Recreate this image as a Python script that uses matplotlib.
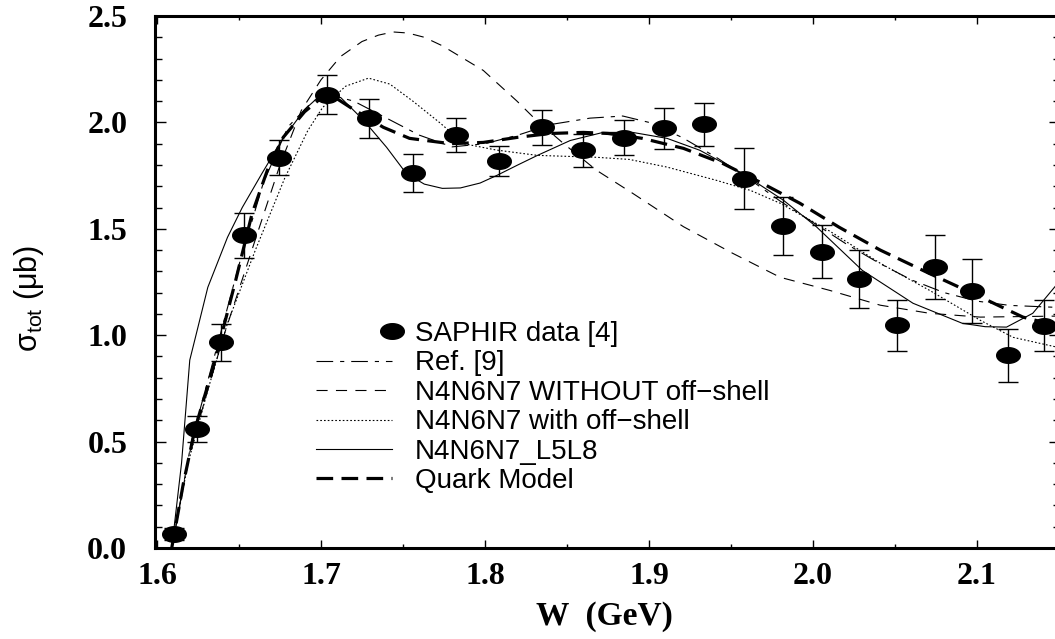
import numpy as np
import matplotlib
matplotlib.use('Agg')
import matplotlib.pyplot as plt
from matplotlib.path import Path
from matplotlib.legend_handler import HandlerLine2D

plt.rcParams['lines.scale_dashes'] = False
plt.rcParams['mathtext.default'] = 'regular'

# SAPHIR data points
w_data = [1.6104, 1.6242, 1.6388, 1.6532, 1.6744, 1.7038, 1.7293, 1.7563,
          1.7825, 1.8087, 1.8346, 1.8600, 1.8848, 1.9093, 1.9337, 1.9579,
          1.9819, 2.0053, 2.0282, 2.0510, 2.0742, 2.0967, 2.1191, 2.1409]
sig_data = [0.066, 0.559, 0.966, 1.470, 1.834, 2.131, 2.019, 1.762,
            1.940, 1.818, 1.978, 1.869, 1.928, 1.973, 1.991, 1.736,
            1.513, 1.393, 1.264, 1.047, 1.321, 1.207, 0.906, 1.044]
err_data = [0.030, 0.063, 0.085, 0.105, 0.082, 0.090, 0.092, 0.088,
            0.080, 0.072, 0.082, 0.078, 0.083, 0.096, 0.100, 0.145,
            0.135, 0.124, 0.136, 0.120, 0.150, 0.150, 0.125, 0.120]

# Ref. [9]
w_ref9 = [1.609, 1.621, 1.635, 1.650, 1.665, 1.680, 1.695, 1.705, 1.720, 1.740,
          1.760, 1.780, 1.800, 1.820, 1.840, 1.864, 1.884, 1.900, 1.920, 1.941,
          1.960, 1.980, 2.000, 2.020, 2.040, 2.060, 2.080, 2.100, 2.120, 2.151]
s_ref9 = [0.0, 0.50, 0.90, 1.33, 1.72, 1.98, 2.10, 2.13, 2.10, 2.02,
          1.94, 1.885, 1.90, 1.94, 1.99, 2.02, 2.03, 2.00, 1.93, 1.836,
          1.74, 1.63, 1.53, 1.43, 1.34, 1.26, 1.20, 1.16, 1.14, 1.13]

# N4N6N7 WITHOUT off-shell
w_noff = [1.609, 1.620, 1.640, 1.660, 1.675, 1.688, 1.700, 1.712, 1.725, 1.735,
          1.744, 1.753, 1.763, 1.774, 1.799, 1.8195, 1.830, 1.848, 1.868, 1.890,
          1.921, 1.951, 1.980, 2.010, 2.041, 2.071, 2.102, 2.151]
s_noff = [0.0, 0.45, 0.98, 1.45, 1.80, 2.056, 2.20, 2.31, 2.38, 2.41,
          2.425, 2.42, 2.40, 2.36, 2.244, 2.10, 2.02, 1.90, 1.775, 1.667,
          1.51, 1.385, 1.272, 1.211, 1.141, 1.103, 1.085, 1.09]

# N4N6N7 with off-shell
w_off = [1.609, 1.619, 1.631, 1.643, 1.660, 1.678, 1.692, 1.701, 1.715, 1.729,
         1.742, 1.756, 1.773, 1.787, 1.807, 1.832, 1.868, 1.888, 1.911, 1.941,
         1.962, 1.980, 2.010, 2.041, 2.071, 2.102, 2.122, 2.151]
s_off = [0.0, 0.40, 0.742, 1.056, 1.40, 1.74, 1.962, 2.07, 2.17, 2.208,
         2.18, 2.10, 1.995, 1.90, 1.87, 1.845, 1.836, 1.826, 1.79, 1.728,
         1.68, 1.62, 1.49, 1.338, 1.211, 1.07, 0.99, 0.94]

# N4N6N7_L5L8
w_l5l8 = [1.609, 1.612, 1.615, 1.620, 1.625, 1.631, 1.643, 1.652, 1.664, 1.676,
          1.690, 1.700, 1.712, 1.726, 1.740, 1.752, 1.763, 1.774, 1.785, 1.797,
          1.807, 1.820, 1.832, 1.852, 1.872, 1.890, 1.911, 1.931, 1.957, 1.982,
          2.002, 2.030, 2.061, 2.091, 2.105, 2.118, 2.134, 2.151]
s_l5l8 = [0.0, 0.20, 0.40, 0.883, 1.038, 1.225, 1.46, 1.60, 1.76, 1.915,
          2.06, 2.13, 2.117, 2.01, 1.883, 1.76, 1.71, 1.69, 1.692, 1.715,
          1.75, 1.80, 1.845, 1.915, 1.953, 1.953, 1.925, 1.869, 1.76, 1.634,
          1.51, 1.305, 1.15, 1.056, 1.04, 1.038, 1.103, 1.26]

# Quark Model
w_qm = [1.609, 1.616, 1.623, 1.635, 1.648, 1.658, 1.668, 1.677, 1.690, 1.701,
        1.706, 1.718, 1.738, 1.754, 1.779, 1.799, 1.820, 1.840, 1.860, 1.875,
        1.896, 1.921, 1.945, 1.968, 1.992, 2.016, 2.041, 2.071, 2.102, 2.128, 2.151]
s_qm = [0.0, 0.30, 0.554, 0.87, 1.258, 1.572, 1.79, 1.93, 2.05, 2.12,
        2.13, 2.07, 1.977, 1.925, 1.90, 1.906, 1.93, 1.948, 1.953, 1.948,
        1.925, 1.878, 1.807, 1.718, 1.62, 1.507, 1.40, 1.29, 1.18, 1.085, 1.04]

xticks = [1.6, 1.7, 1.8, 1.9, 2.0, 2.1]
yticks = [0.0, 0.5, 1.0, 1.5, 2.0, 2.5]

# flattened ellipse marker like the original
th = np.linspace(0, 2*np.pi, 60)
ell = Path(np.column_stack([np.cos(th), 0.66*np.sin(th)]))


class MarkerRight(HandlerLine2D):
    # single legend marker sits at the right end of the handle, not the middle
    def get_xdata(self, legend, xdescent, ydescent, width, height, fontsize):
        m = -xdescent + 1.0*width
        return np.array([m - 1, m + 1]), np.array([m])


fig = plt.figure(figsize=(10.55, 6.39), dpi=100)
ax = fig.add_axes([155/1055, 1 - 548/639, 905/1055, 532/639])

lw_thin = 0.8
l1, = ax.plot(w_ref9, s_ref9, color='black', lw=lw_thin, dashes=(12, 5, 3, 5))
l2, = ax.plot(w_noff, s_noff, color='black', lw=lw_thin, dashes=(8, 6))
l3, = ax.plot(w_off, s_off, color='black', lw=lw_thin, dashes=(1.2, 1.5))
l4, = ax.plot(w_l5l8, s_l5l8, color='black', lw=lw_thin)
l5, = ax.plot(w_qm, s_qm, color='black', lw=2.3, dashes=(12, 6))

ax.errorbar(w_data, sig_data, yerr=err_data, fmt='none', ecolor='black',
            elinewidth=1.0, capsize=7.5, capthick=1.0)
pts, = ax.plot(w_data, sig_data, ls='none', marker=ell, ms=17,
               color='black', zorder=5)

ax.set_xlim(1.5988, 2.1506)
ax.set_ylim(0, 2.5)
ax.set_xticks(xticks)
ax.set_xticks(np.arange(1.6, 2.16, 0.05), minor=True)
ax.set_yticks(yticks)
ax.set_yticks(np.arange(0, 2.51, 0.1), minor=True)
ax.set_xticklabels(['%.1f' % v for v in xticks])
ax.set_yticklabels(['%.1f' % v for v in yticks])

ax.tick_params(which='both', direction='in', top=True, right=True, width=1.0)
ax.tick_params(axis='x', which='major', length=6, pad=10)
ax.tick_params(axis='x', which='minor', length=3)
ax.tick_params(axis='y', which='major', length=8, pad=20)
ax.tick_params(axis='y', which='minor', length=5)
for lab in ax.get_xticklabels() + ax.get_yticklabels():
    lab.set_fontfamily('Liberation Serif')
    lab.set_fontweight('bold')
    lab.set_fontsize(23)
for sp in ax.spines.values():
    sp.set_linewidth(2.2)

ax.set_xlabel('W  (GeV)', fontfamily='Liberation Serif', fontweight='bold',
              fontsize=24)
ax.xaxis.set_label_coords(0.497, -0.10)
ax.set_ylabel('σ$_{tot}$ (μb)', fontfamily='Liberation Sans', fontsize=22)
ax.yaxis.set_label_coords(-0.12, 0.47)

handles = [pts, l1, l2, l3, l4, l5]
labels = ['SAPHIR data [4]', 'Ref. [9]', 'N4N6N7 WITHOUT off\u2212shell',
          'N4N6N7 with off\u2212shell', 'N4N6N7_L5L8', 'Quark Model']
leg = ax.legend(handles, labels, loc='upper left', bbox_to_anchor=(0.178, 0.427),
                frameon=False, borderpad=0, borderaxespad=0, handlelength=2.75,
                handletextpad=0.8, labelspacing=0.125,
                prop={'family': 'Liberation Sans', 'size': 20},
                handler_map={pts: MarkerRight(numpoints=1)})

fig.savefig('out.png', dpi=100)
